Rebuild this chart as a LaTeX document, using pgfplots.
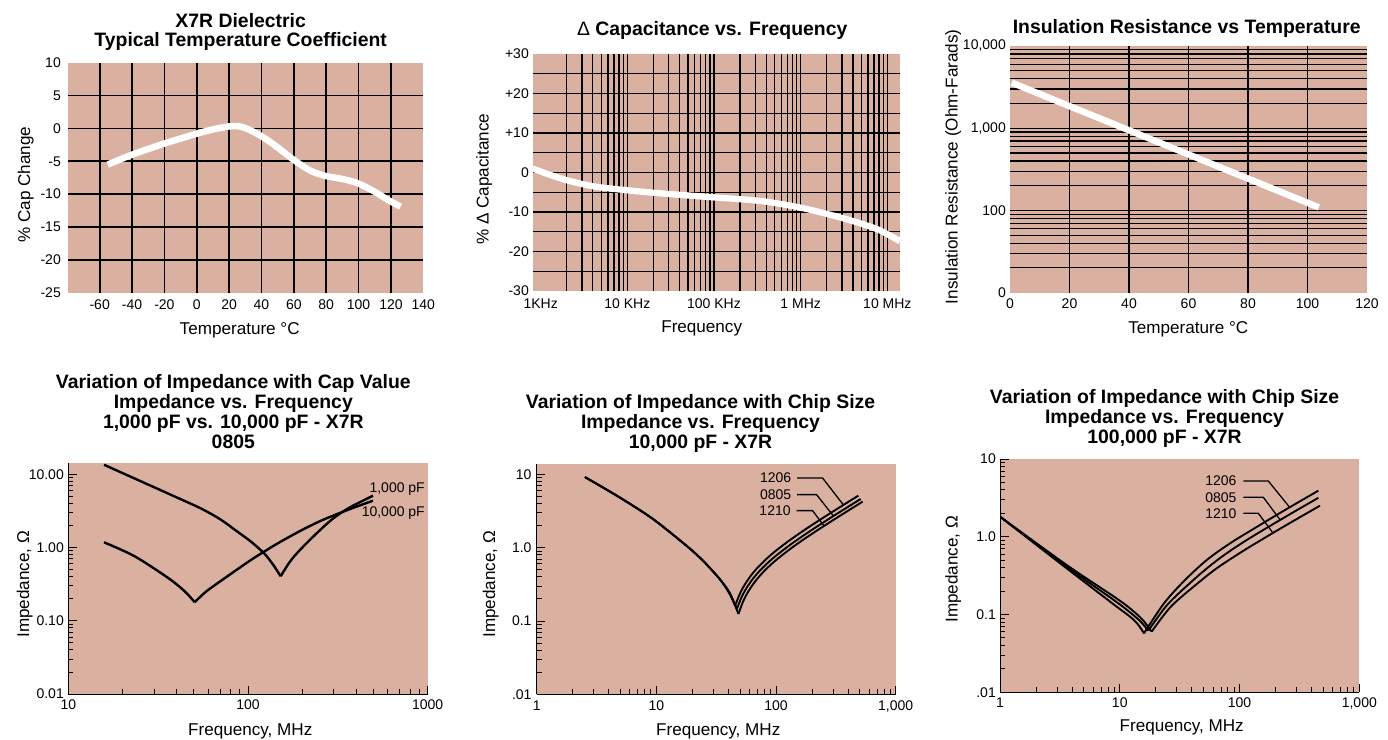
\documentclass[border=0pt]{standalone}
\usepackage{fontspec}
\setmainfont{Liberation Sans}
\usepackage{pgfplots}
\pgfplotsset{compat=1.18}
\definecolor{bgc}{RGB}{218,177,160}
\newcommand\TL[3]{\node[anchor=base,inner sep=0pt,font=\bfseries\fontsize{19.4}{20}\selectfont] at (#1pt,739pt-#2pt) {#3};}
\newcommand\XL[3]{\node[anchor=base,inner sep=0pt,font=\fontsize{17.1}{19}\selectfont] at (#1pt,739pt-#2pt) {#3};}
\newcommand\YL[3]{\node[anchor=base,rotate=90,inner sep=0pt,font=\fontsize{17.1}{19}\selectfont] at (#1pt,739pt-#2pt) {#3};}
\tikzset{
  lead/.style={black, line width=1.3pt},
  slab/.style={anchor=east, inner sep=0pt, font=\fontsize{14}{16}\selectfont},
}
\pgfplotsset{
  myb/.style={scale only axis, anchor=south west, axis background/.style={fill=bgc},
    tick label style={font=\fontsize{14}{16}\selectfont, inner sep=0pt},
    xticklabel style={anchor=base}, yticklabel style={anchor=east}},
  gridax/.style={myb, axis line style={draw=none}, major tick length=0pt, minor tick length=0pt,
    xminorticks=false, yminorticks=false, extra x tick labels={}, extra y tick labels={},
    extra tick style={grid=major}},
  impax/.style={myb, axis x line*=bottom, axis y line*=left,
    tick align=inside, major tick length=8.5pt, minor tick length=5pt,
    axis line style={black, line width=1pt}, tick style={black, line width=0.9pt}},
  imp/.style={black, line width=1.9pt, smooth, tension=0.5, line join=round},
}
\begin{document}
\begin{tikzpicture}
\useasboundingbox (0,0) rectangle (1388pt,739pt);
% ---------- Panel 1
\begin{axis}[gridax, at={(68.3pt,446.3pt)}, width=355pt, height=230pt,
  xmin=-79.4, xmax=140, ymin=-25, ymax=10,
  xtick={-60,-40,...,140}, xticklabels={-60,-40,-20,0,20,40,60,80,100,120,140},
  ytick={-25,-20,...,10}, yticklabels={-25,-20,-15,-10,-5,0,5,10},
  extra x ticks={-60,-40,-20,0,20,40,60,80,100,120}, extra y ticks={-20,-15,-10,-5,0,5},
  major grid style={black, line width=1.7pt},
  xticklabel style={yshift=-16.6pt}, yticklabel style={xshift=-7.3pt}]
\addplot[white, line width=6.5pt, smooth] coordinates {(-55,-5.5) (-40,-4.0) (-20,-2.3) (0,-0.8) (10,-0.15) (20,0.3) (25,0.35) (30,0.05) (38,-0.9) (45,-2.0) (50,-2.9) (60,-4.8) (70,-6.4) (79,-7.2) (90,-7.7) (99,-8.3) (109,-9.5) (119,-11.0) (126,-11.9)};
\end{axis}
% ---------- Panel 2
\begin{axis}[gridax, at={(532.7pt,448pt)}, width=367.3pt, height=237pt, xmode=log,
  xmin=810, xmax=14000000, ymin=-30, ymax=30,
  xtick={1000,10000,100000,1000000,10000000}, xticklabels={1KHz,10 KHz,100 KHz,1 MHz,10 MHz},
  ytick={-30,-20,...,30}, yticklabels={-30,-20,-10,0,+10,+20,+30},
  extra x ticks={2000,3000,4000,5000,6000,7000,8000,9000,10000,20000,30000,40000,50000,60000,70000,80000,90000,100000,200000,300000,400000,500000,600000,700000,800000,900000,1000000,2000000,3000000,4000000,5000000,6000000,7000000,8000000,9000000,10000000},
  extra y ticks={-25,-20,-15,-10,-5,0,5,10,15,20,25},
  major grid style={black, line width=1.3pt},
  xticklabel style={yshift=-17.3pt}, yticklabel style={xshift=-3.7pt}]
\addplot[white, line width=6.3pt, smooth] coordinates {(809,1.0) (1173,-0.3) (1961,-1.9) (4053,-3.5) (10000,-4.5) (28430,-5.4) (100000,-6.3) (339500,-7.2) (1000000,-8.9) (3107000,-11.6) (7530000,-14.3) (14000000,-17.4)};
\end{axis}
% ---------- Panel 3
\begin{axis}[gridax, at={(1010pt,446.3pt)}, width=357pt, height=246.7pt, ymode=log,
  xmin=0, xmax=120, ymin=10, ymax=10000,
  xtick={0,20,...,120}, xticklabels={0,20,40,60,80,100,120},
  ytick={10,100,1000,10000}, yticklabels={0,100,{1,000},{10,000}},
  extra x ticks={20,40,60,80,100},
  extra y ticks={20,30,40,50,60,70,80,90,100,200,300,400,500,600,700,800,900,1000,2000,3000,4000,5000,6000,7000,8000,9000},
  extra x tick style={grid=major, major grid style={black,line width=1.5pt}},
  extra y tick style={grid=major, major grid style={black,line width=1.1pt}},
  xticklabel style={yshift=-15.6pt}, yticklabel style={xshift=-4pt}]
\addplot[white, line width=6.5pt] coordinates {(0.6,3580) (103.8,109)};
\end{axis}
% ---------- Panel 4
\begin{axis}[impax, xmode=log, ymode=log, at={(68.3pt,45pt)}, width=359.4pt, height=231pt,
  xmin=10, xmax=1000, ymin=0.01, ymax=14.3,
  xtick={10,100,1000}, xticklabels={10,100,1000},
  ytick={0.01,0.1,1,10}, yticklabels={0.01,0.10,1.00,10.00},
  minor xtick={20,30,40,50,60,70,80,90,200,300,400,500,600,700,800,900},
  minor ytick={0.02,0.03,0.04,0.05,0.06,0.07,0.08,0.09,0.2,0.3,0.4,0.5,0.6,0.7,0.8,0.9,2,3,4,5,6,7,8,9},
  xticklabel style={yshift=-15.3pt}, yticklabel style={xshift=-4.3pt}]
% 1,000 pF
\addplot[imp, line width=2.4pt] coordinates {(15.8,13.53) (29.0,6.93) (40,4.86) (55,3.40) (70,2.44) (84.3,1.758) (104.4,1.193) (123.8,0.819) (137.8,0.586) (152,0.406)};
\addplot[imp, line width=2.4pt] coordinates {(152,0.406) (171.3,0.644) (194.7,0.929) (241,1.569) (298.5,2.51) (369.6,3.55) (496.2,5.11)};
% 10,000 pF
\addplot[imp, line width=2.4pt] coordinates {(15.8,1.181) (23.4,0.761) (35.9,0.3855) (44.4,0.2535) (50.5,0.1795)};
\addplot[imp, line width=2.4pt] coordinates {(50.5,0.1795) (58,0.2467) (68.1,0.3295) (101.3,0.650) (123.8,0.890) (150,1.183) (198,1.72) (255,2.33) (324,2.967) (400,3.61) (496.2,4.37)};
\node[anchor=base east, inner sep=0pt, font=\fontsize{14}{16}\selectfont] at (axis cs:966,5.61) {1,000 pF};
\node[anchor=base east, inner sep=0pt, font=\fontsize{14}{16}\selectfont] at (axis cs:966,2.64) {10,000 pF};
\end{axis}
% ---------- Panel 5
\begin{axis}[impax, xmode=log, ymode=log, at={(536.7pt,44.7pt)}, width=359pt, height=230pt,
  xmin=1, xmax=1000, ymin=0.01, ymax=13.68,
  xtick={1,10,100,1000}, xticklabels={1,10,100,{1,000}},
  ytick={0.01,0.1,1,10}, yticklabels={.01,0.1,1.0,10},
  minor xtick={2,3,4,5,6,7,8,9,20,30,40,50,60,70,80,90,200,300,400,500,600,700,800,900},
  minor ytick={0.02,0.03,0.04,0.05,0.06,0.07,0.08,0.09,0.2,0.3,0.4,0.5,0.6,0.7,0.8,0.9,2,3,4,5,6,7,8,9},
  xticklabel style={yshift=-15.7pt}, yticklabel style={xshift=-5pt}]
% 1206
\addplot[imp] coordinates {(2.52,9.2) (4.92,4.85) (9.36,2.457) (17.8,1.064) (24.5,0.664) (33.8,0.3735) (41.0,0.233) (45.5,0.1617)};
\addplot[imp] coordinates {(45.5,0.1617) (50,0.2378) (55,0.3170) (62,0.4206) (70,0.5318) (85,0.7267) (100,0.9106) (130,1.2608) (170,1.7092) (220,2.2564) (300,3.1185) (400,4.1862) (486.9,5.11)};
% 0805
\addplot[imp] coordinates {(2.55,9.09) (4.92,4.85) (9.36,2.457) (17.8,1.064) (24.5,0.664) (33.8,0.3735) (41.0,0.238) (47.0,0.1456)};
\addplot[imp] coordinates {(47.0,0.1456) (52,0.2181) (57,0.2859) (64,0.3749) (72,0.4706) (85,0.6169) (100,0.7765) (130,1.0798) (170,1.4672) (220,1.9394) (300,2.6826) (400,3.6025) (509.5,4.605)};
% 1210
\addplot[imp] coordinates {(2.58,8.98) (4.92,4.85) (9.36,2.457) (17.8,1.064) (24.5,0.664) (33.8,0.3735) (41.0,0.242) (48.5,0.1245)};
\addplot[imp] coordinates {(48.5,0.1245) (53,0.1833) (58,0.2445) (65,0.3248) (74,0.4213) (85,0.5324) (100,0.6758) (130,0.9469) (170,1.2922) (220,1.7117) (300,2.3711) (400,3.1866) (529.3,4.235)};
\draw[lead] (axis cs:150.2,8.90) -- (axis cs:244.8,8.90) -- (axis cs:364.6,3.85);
\draw[lead] (axis cs:150.2,5.276) -- (axis cs:218.1,5.276) -- (axis cs:300.6,2.72);
\draw[lead] (axis cs:148.3,3.193) -- (axis cs:201.9,3.193) -- (axis cs:251.2,1.99);
\node[slab, xshift=-5.7pt] at (axis cs:150.2,8.90) {1206};
\node[slab, xshift=-5.7pt] at (axis cs:150.2,5.276) {0805};
\node[slab, xshift=-5.7pt] at (axis cs:148.3,3.193) {1210};
\end{axis}
% ---------- Panel 6
\begin{axis}[impax, xmode=log, ymode=log, at={(1000pt,46.7pt)}, width=359.3pt, height=233.3pt,
  xmin=1, xmax=1000, ymin=0.01, ymax=10,
  xtick={1,10,100,1000}, xticklabels={1,10,100,{1,000}},
  ytick={0.01,0.1,1,10}, yticklabels={.01,0.1,1.0,10},
  minor xtick={2,3,4,5,6,7,8,9,20,30,40,50,60,70,80,90,200,300,400,500,600,700,800,900},
  minor ytick={0.02,0.03,0.04,0.05,0.06,0.07,0.08,0.09,0.2,0.3,0.4,0.5,0.6,0.7,0.8,0.9,2,3,4,5,6,7,8,9},
  xticklabel style={yshift=-15pt}, yticklabel style={xshift=-4pt}]
% 1206
\addplot[imp] coordinates {(1,1.814) (3.603,0.3926) (9,0.1332) (12.17,0.0939) (14.2,0.0745) (15.93,0.0573)};
\addplot[imp] coordinates {(15.93,0.0573) (23.4,0.1394) (35.05,0.278) (53.7,0.508) (83.25,0.823) (122.3,1.186) (235,2.17) (454.9,3.916)};
% 0805
\addplot[imp] coordinates {(1,1.814) (3.603,0.4126) (9,0.152) (12.17,0.1067) (15,0.0805) (17.32,0.0620)};
\addplot[imp] coordinates {(17.32,0.0620) (25,0.134) (41.14,0.278) (60,0.454) (83.25,0.657) (122.3,0.965) (235,1.76) (454.9,3.17)};
% 1210
\addplot[imp] coordinates {(1,1.814) (3.603,0.4335) (9,0.1689) (12.17,0.1202) (15.5,0.0857) (18.47,0.0602)};
\addplot[imp] coordinates {(18.47,0.0602) (27,0.1287) (48.29,0.278) (64,0.390) (83.25,0.5126) (122.3,0.746) (240,1.384) (469.7,2.511)};
\draw[lead] (axis cs:107.5,5.21) -- (axis cs:173.9,5.21) -- (axis cs:260.3,2.42);
\draw[lead] (axis cs:107.5,3.218) -- (axis cs:157.9,3.218) -- (axis cs:217.7,1.66);
\draw[lead] (axis cs:107.5,2.004) -- (axis cs:143.4,2.004) -- (axis cs:189.2,1.13);
\node[slab, xshift=-6.6pt] at (axis cs:107.5,5.21) {1206};
\node[slab, xshift=-6.6pt] at (axis cs:107.5,3.218) {0805};
\node[slab, xshift=-6.6pt] at (axis cs:107.5,2.004) {1210};
\end{axis}
% ---------- Titles
\TL{240.7}{27.3}{X7R Dielectric}
\TL{240.7}{46.9}{Typical Temperature Coefficient}
\TL{712.2}{35.7}{{\mdseries Δ} Capacitance vs. Frequency}
\TL{1186.7}{33.3}{Insulation Resistance vs Temperature}
\TL{233.3}{389}{Variation of Impedance with Cap Value}
\TL{233.3}{409}{Impedance vs. Frequency}
\TL{233.3}{429}{1,000 pF vs. 10,000 pF - X7R}
\TL{233.3}{449}{0805}
\TL{700.5}{409}{Variation of Impedance with Chip Size}
\TL{700.5}{429}{Impedance vs. Frequency}
\TL{700.5}{449}{10,000 pF - X7R}
\TL{1164.5}{403.7}{Variation of Impedance with Chip Size}
\TL{1164.5}{423.7}{Impedance vs. Frequency}
\TL{1164.5}{443.7}{100,000 pF - X7R}
% ---------- Axis labels
\XL{239.7}{334.3}{Temperature °C}
\XL{701.7}{332.7}{Frequency}
\XL{1188.3}{333.3}{Temperature °C}
\XL{250.3}{735}{Frequency, MHz}
\XL{718.3}{735}{Frequency, MHz}
\XL{1181.7}{731.7}{Frequency, MHz}
\YL{30.2}{184.7}{\% Cap Change}
\YL{488.5}{179.2}{\% Δ Capacitance}
\YL{957.7}{166.7}{Insulation Resistance (Ohm-Farads)}
\YL{29}{584.2}{Impedance, Ω}
\YL{495}{584.2}{Impedance, Ω}
\YL{957.5}{569.2}{Impedance, Ω}
\end{tikzpicture}
\end{document}
